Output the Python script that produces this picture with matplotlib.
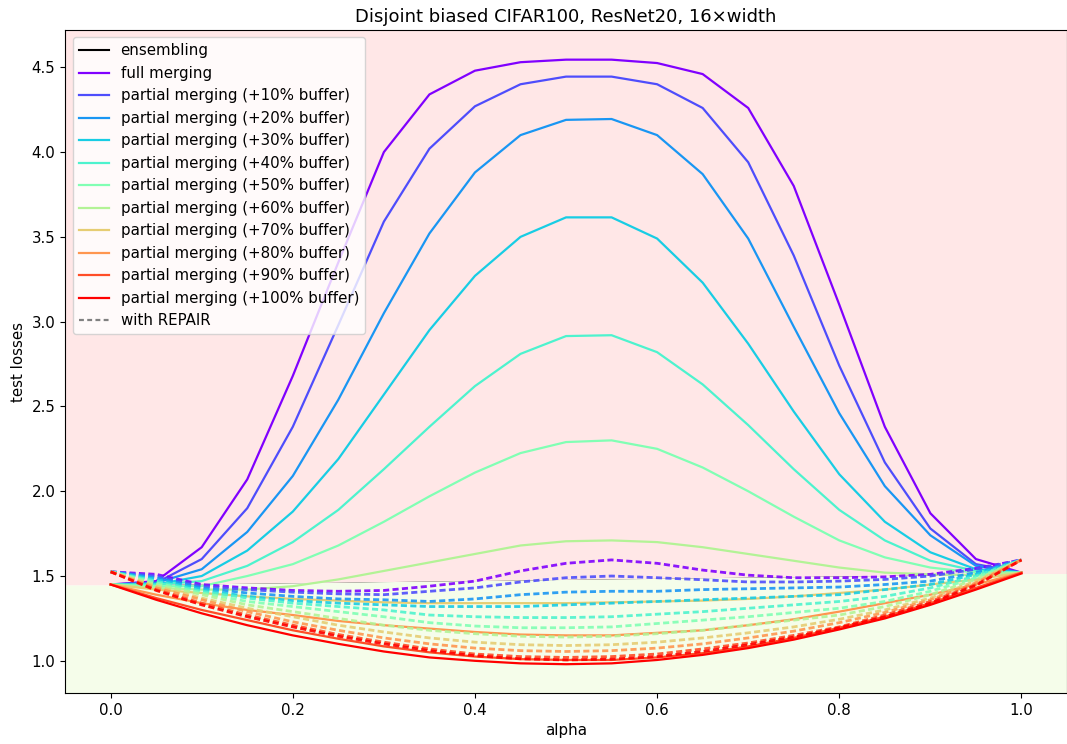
import numpy as np
import matplotlib.pyplot as plt

plt.rcParams["font.size"] = 10.8

# interpolation points
alphas = np.linspace(0, 1, 21)

buffers = [10, 20, 30, 40, 50, 60, 70, 80, 90, 100]

ensembling = [1.447, 1.450, 1.454, 1.457, 1.460, 1.463, 1.467, 1.470, 1.473, 1.476, 1.480,
              1.483, 1.486, 1.490, 1.493, 1.496, 1.500, 1.503, 1.506, 1.510, 1.515]

# solid curves: full merging, then +10% ... +100% buffer
merging = [
    [1.45, 1.47, 1.67, 2.07, 2.68, 3.35, 4.00, 4.34, 4.48, 4.53, 4.545,
     4.545, 4.525, 4.46, 4.26, 3.80, 3.10, 2.38, 1.87, 1.60, 1.52],
    [1.45, 1.46, 1.60, 1.90, 2.38, 2.98, 3.59, 4.02, 4.27, 4.40, 4.445,
     4.445, 4.40, 4.26, 3.94, 3.39, 2.74, 2.17, 1.78, 1.57, 1.52],
    [1.45, 1.46, 1.54, 1.76, 2.09, 2.54, 3.05, 3.52, 3.88, 4.10, 4.19,
     4.195, 4.10, 3.87, 3.49, 2.97, 2.46, 2.03, 1.74, 1.56, 1.52],
    [1.45, 1.45, 1.50, 1.65, 1.88, 2.19, 2.57, 2.95, 3.27, 3.50, 3.615,
     3.615, 3.49, 3.23, 2.87, 2.47, 2.10, 1.82, 1.64, 1.54, 1.52],
    [1.45, 1.45, 1.47, 1.56, 1.70, 1.89, 2.13, 2.38, 2.62, 2.81, 2.915,
     2.92, 2.82, 2.63, 2.39, 2.13, 1.89, 1.71, 1.59, 1.53, 1.52],
    [1.45, 1.44, 1.44, 1.50, 1.57, 1.68, 1.82, 1.97, 2.11, 2.225, 2.29,
     2.30, 2.25, 2.14, 2.00, 1.85, 1.71, 1.61, 1.55, 1.52, 1.52],
    [1.45, 1.43, 1.42, 1.42, 1.44, 1.48, 1.53, 1.58, 1.63, 1.68, 1.705,
     1.71, 1.70, 1.67, 1.63, 1.59, 1.55, 1.52, 1.51, 1.505, 1.52],
    [1.45, 1.42, 1.40, 1.38, 1.365, 1.355, 1.345, 1.34, 1.34, 1.34, 1.34,
     1.345, 1.35, 1.355, 1.365, 1.38, 1.40, 1.42, 1.45, 1.48, 1.52],
    [1.45, 1.39, 1.34, 1.30, 1.27, 1.235, 1.21, 1.19, 1.17, 1.155, 1.15,
     1.15, 1.165, 1.18, 1.21, 1.245, 1.29, 1.34, 1.39, 1.45, 1.52],
    [1.45, 1.37, 1.30, 1.24, 1.18, 1.13, 1.085, 1.05, 1.025, 1.01, 1.005,
     1.005, 1.02, 1.045, 1.085, 1.135, 1.195, 1.26, 1.34, 1.43, 1.52],
    [1.45, 1.36, 1.28, 1.21, 1.15, 1.10, 1.055, 1.02, 1.00, 0.985, 0.98,
     0.985, 1.005, 1.035, 1.075, 1.125, 1.185, 1.25, 1.33, 1.42, 1.515],
]

# dashed curves: same runs with REPAIR
repair = [
    [1.525, 1.51, 1.45, 1.43, 1.415, 1.41, 1.415, 1.44, 1.47, 1.53, 1.575,
     1.595, 1.575, 1.535, 1.505, 1.49, 1.49, 1.495, 1.51, 1.545, 1.595],
    [1.525, 1.50, 1.44, 1.42, 1.405, 1.395, 1.39, 1.41, 1.43, 1.465, 1.49,
     1.50, 1.49, 1.478, 1.465, 1.465, 1.47, 1.48, 1.50, 1.54, 1.595],
    [1.525, 1.49, 1.43, 1.40, 1.38, 1.365, 1.36, 1.35, 1.365, 1.39, 1.405,
     1.41, 1.41, 1.42, 1.425, 1.43, 1.435, 1.45, 1.47, 1.52, 1.595],
    [1.525, 1.48, 1.42, 1.38, 1.355, 1.34, 1.33, 1.32, 1.32, 1.32, 1.33,
     1.34, 1.35, 1.36, 1.37, 1.38, 1.39, 1.42, 1.45, 1.51, 1.595],
    [1.525, 1.47, 1.41, 1.37, 1.34, 1.32, 1.30, 1.27, 1.26, 1.255, 1.255,
     1.26, 1.275, 1.29, 1.31, 1.33, 1.35, 1.38, 1.43, 1.50, 1.595],
    [1.525, 1.46, 1.40, 1.35, 1.32, 1.29, 1.26, 1.225, 1.205, 1.195, 1.195,
     1.20, 1.22, 1.24, 1.26, 1.285, 1.31, 1.35, 1.41, 1.49, 1.595],
    [1.525, 1.45, 1.39, 1.33, 1.29, 1.25, 1.21, 1.18, 1.16, 1.145, 1.14,
     1.145, 1.16, 1.18, 1.21, 1.24, 1.27, 1.32, 1.39, 1.48, 1.595],
    [1.525, 1.44, 1.37, 1.31, 1.26, 1.21, 1.17, 1.135, 1.11, 1.095, 1.09,
     1.095, 1.11, 1.135, 1.165, 1.20, 1.245, 1.30, 1.37, 1.47, 1.595],
    [1.525, 1.43, 1.36, 1.29, 1.23, 1.18, 1.135, 1.10, 1.075, 1.06, 1.055,
     1.06, 1.075, 1.10, 1.135, 1.175, 1.225, 1.285, 1.36, 1.46, 1.595],
    [1.525, 1.42, 1.34, 1.27, 1.21, 1.155, 1.11, 1.07, 1.04, 1.025, 1.02,
     1.025, 1.04, 1.07, 1.105, 1.15, 1.20, 1.27, 1.35, 1.45, 1.595],
    [1.525, 1.415, 1.33, 1.26, 1.20, 1.145, 1.10, 1.06, 1.03, 1.012, 1.005,
     1.01, 1.025, 1.055, 1.095, 1.14, 1.195, 1.26, 1.34, 1.445, 1.595],
]

labels = ["full merging"] + [f"partial merging (+{b}% buffer)" for b in buffers]
colors = plt.cm.rainbow(np.linspace(0, 1, len(merging)))

fig, ax = plt.subplots(figsize=(10.67, 7.44), dpi=100)
fig.subplots_adjust(left=0.061, right=1.0, bottom=0.0685, top=0.9597)

ax.plot(alphas, ensembling, color="black", label="ensembling", zorder=1)
for ys, c, lab in zip(merging, colors, labels):
    ax.plot(alphas, ys, color=c, lw=1.6, label=lab, zorder=3)
for ys, c in zip(repair, colors):
    ax.plot(alphas, ys, color=c, lw=2, ls=(0, (2.2, 1.2)), alpha=0.9, zorder=3)
ax.plot([], [], color="gray", lw=1.6, ls=(0, (2.2, 1.5)), label="with REPAIR")

ax.set_xlim(-0.05, 1.05)
ax.set_ylim(0.81, 4.72)

# shade above / below the ensembling curve (extended to the axes edges)
xs = np.concatenate([[-0.05], alphas, [1.05]])
ens = np.concatenate([[ensembling[0]], ensembling, [ensembling[-1]]])
ax.fill_between(xs, ens, 4.72, color="#ffe7e7", zorder=2, lw=0)
ax.fill_between(xs, 0.81, ens, color="#f5fdea", zorder=2, lw=0)

ax.set_xlabel("alpha")
ax.set_ylabel("test losses")
ax.set_title("Disjoint biased CIFAR100, ResNet20, 16\u00d7width")
ax.legend(loc="upper left")

plt.savefig("out.png")
